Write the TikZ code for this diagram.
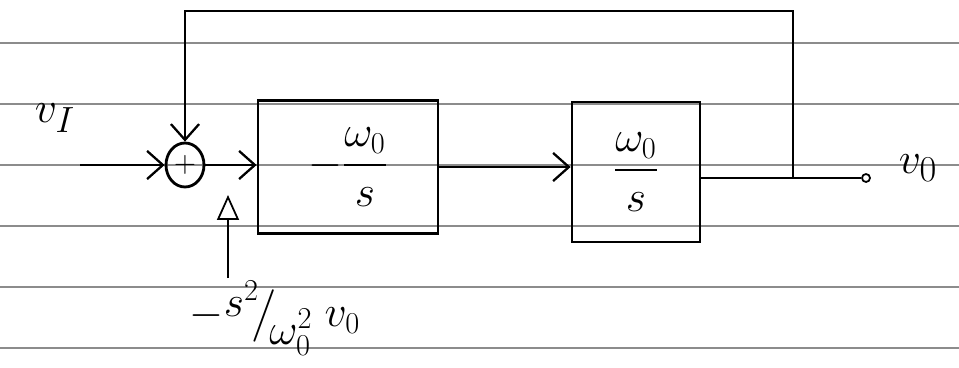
\documentclass[tikz,border=0pt]{standalone}
\usepackage{amsmath}
\usetikzlibrary{arrows.meta,shapes.geometric}
\begin{document}
\begin{tikzpicture}[x=0.02cm,y=-0.02cm,
  ink/.style={line width=1.6pt,black},
  block/.style={draw,ink,rectangle,inner sep=0pt},
  sig/.style={ink,-{Straight Barb[length=9pt,width=16pt,line width=1.3pt]}},
  paperrule/.style={black!45,line width=0.6pt},
  hand/.style={font=\fontsize{26}{30}\selectfont}]
\useasboundingbox (0,0) rectangle (959,368);
% ruled paper
\foreach \y in {43,104,165,226,287,348} \draw[paperrule] (0,\y) -- (959,\y);

% summing junction and the two integrator blocks
\node[draw,ink,ellipse,minimum width=0.76cm,minimum height=0.88cm,inner sep=0pt,font=\fontsize{16}{18}\selectfont] (sum) at (185,165) {$+$};
\node[block,hand,minimum width=3.6cm,minimum height=2.66cm] (box1) at (348,167) {$-\dfrac{\omega_0}{s}$};
\node[block,hand,minimum width=2.56cm,minimum height=2.8cm] (box2) at (636,172) {$\dfrac{\omega_0}{s}$};

% terminals and labels
\coordinate (in) at (80,165);
\node[draw,line width=1pt,circle,inner sep=0pt,minimum size=0.16cm] (term) at (866,178) {};
\coordinate (j) at (793,178);
\coordinate (fbtop) at (185,11);
\coordinate (ptip) at (228,195);
\node[font=\fontsize{30}{34}\selectfont] (vi) at (55,118) {$v_I$};
\node[font=\fontsize{30}{34}\selectfont] (vo) at (918,168) {$v_0$};
\node[font=\fontsize{26}{30}\selectfont] (fb2) at (275,318)
  {$-\raisebox{0.55ex}{$s^2$}\!\big/\!\raisebox{-0.9ex}{$\omega_0^2$}\;v_0$};

% signal paths
\draw[sig] (in) -- (sum.west);
\draw[sig] (sum.east) -- (sum.east -| box1.west);
\draw[sig] (box1.east) -- (box1.east -| box2.west);
\draw[ink] (box2.east |- term) -- (term.west);
\draw[sig] (j) |- (fbtop) -- (sum.north);
\draw[line width=0.9pt,-{Triangle[open,length=0.5cm,width=0.44cm,line width=1pt]}] (ptip |- 0,278) -- (ptip);
\end{tikzpicture}
\end{document}
